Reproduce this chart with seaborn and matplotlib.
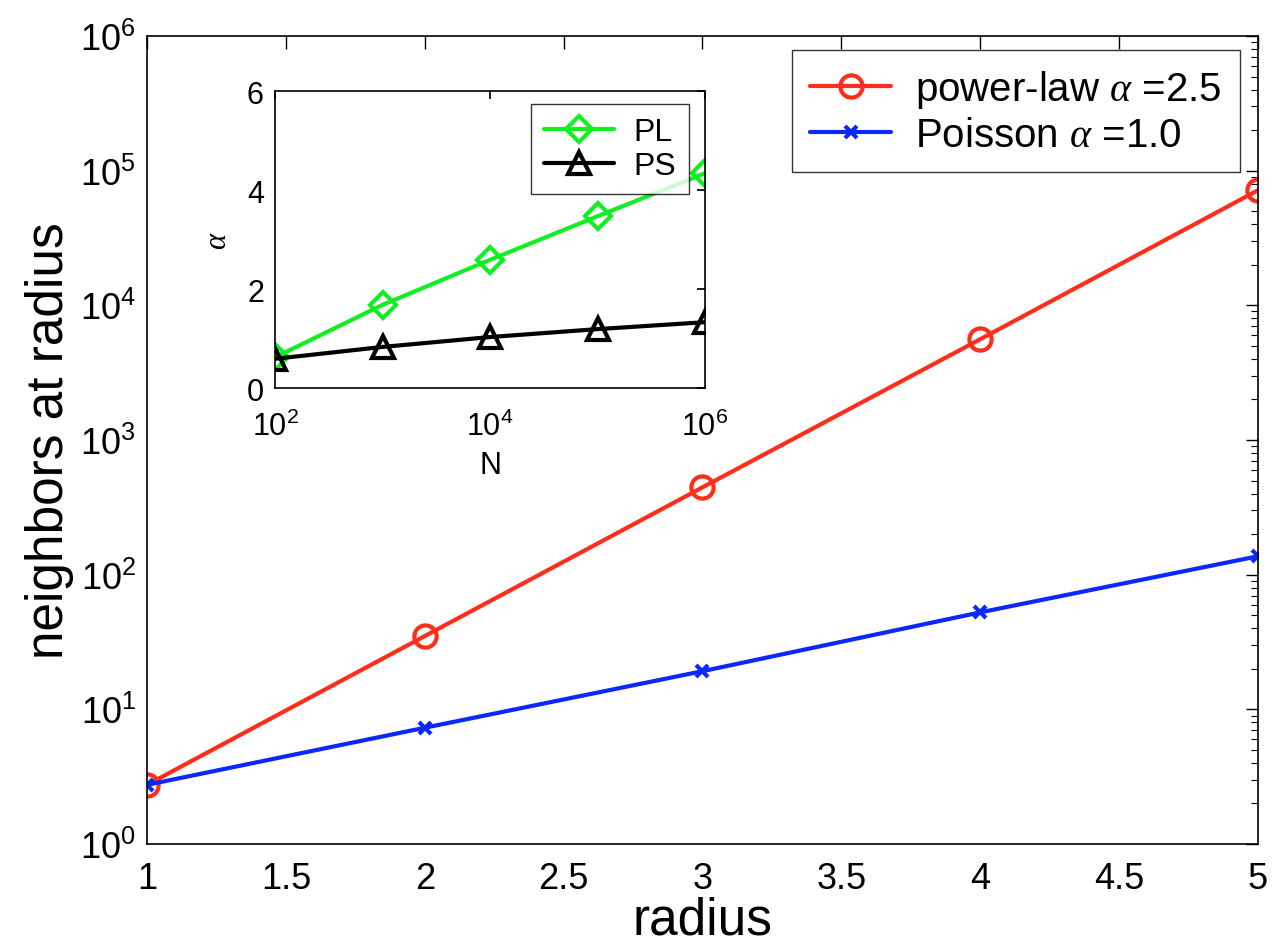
import matplotlib
matplotlib.use("Agg")
import matplotlib.pyplot as plt
import seaborn as sns
import numpy as np
from matplotlib.ticker import LogLocator, FixedLocator

# ---- data ----
radius = [1, 2, 3, 4, 5]
powerlaw_vals = [2.75, 35, 445, 5600, 71500]
poisson_vals = [2.75, 7.3, 19.2, 52.5, 137]

inset_N = [1e2, 1e3, 1e4, 1e5, 1e6]
inset_PL = [0.62, 1.68, 2.59, 3.47, 4.34]
inset_PS = [0.59, 0.83, 1.03, 1.19, 1.33]

sns.set_theme(style="white")
plt.rcParams['font.family'] = ['Liberation Sans', 'DejaVu Sans']
plt.rcParams['mathtext.fontset'] = 'custom'
plt.rcParams['mathtext.rm'] = 'Liberation Sans'
plt.rcParams['mathtext.it'] = 'Liberation Serif:italic'
plt.rcParams['mathtext.bf'] = 'Liberation Sans:bold'
plt.rcParams['xtick.direction'] = 'in'
plt.rcParams['ytick.direction'] = 'in'
for k in ['text.color', 'axes.labelcolor', 'xtick.color', 'ytick.color']:
    plt.rcParams[k] = 'black'

RED = '#ff2d1a'
BLUE = '#0a28ff'
GREEN = '#11ee22'

fig = plt.figure(figsize=(12.74, 9.53), dpi=100)
ax = fig.add_axes([0.1154, 0.1133, 0.872, 0.8479])

sns.lineplot(x=radius, y=powerlaw_vals, ax=ax, color=RED, lw=3.0, marker='o', ms=16,
             mfc='none', mec=RED, mew=3.0, label=r'power-law $\alpha$ =2.5')
sns.lineplot(x=radius, y=poisson_vals, ax=ax, color=BLUE, lw=3.0, marker='x', ms=8,
             mec=BLUE, mew=3.0, label=r'Poisson $\alpha$ =1.0')
ax.set_yscale('log')
ax.set_xlim(1, 5)
ax.set_ylim(1, 1e6)
ax.set_xticks([1, 1.5, 2, 2.5, 3, 3.5, 4, 4.5, 5])
ax.set_xticklabels(['1', '1.5', '2', '2.5', '3', '3.5', '4', '4.5', '5'])
ax.yaxis.set_major_locator(LogLocator(base=10, numticks=10))
ax.yaxis.set_minor_locator(LogLocator(base=10, subs=np.arange(2, 10), numticks=20))
ax.tick_params(which='both', top=True, right=True, labelsize=26)
ax.tick_params(axis='x', pad=12)
ax.tick_params(axis='y', pad=8)
ax.tick_params(which='major', length=9, width=1, color='black')
ax.tick_params(which='minor', length=5, width=0.8, color='black')
for s in ax.spines.values():
    s.set_color('black')
    s.set_linewidth(1.2)
ax.set_xlabel('radius', fontsize=37, labelpad=0)
ax.set_ylabel('neighbors at radius', fontsize=37, labelpad=4)
leg = ax.legend(loc='upper right', fontsize=29, handlelength=2.0, handletextpad=0.6,
                frameon=True, fancybox=False, edgecolor='black', borderpad=0.45,
                borderaxespad=0, bbox_to_anchor=(0.9838, 0.9827), labelspacing=0.15)
leg.get_frame().set_linewidth(1.0)

# ---- inset ----
ins = fig.add_axes([0.2159, 0.5918, 0.3375, 0.3116])
sns.lineplot(x=inset_N, y=inset_PL, ax=ins, color=GREEN, lw=3.0, marker='D', ms=13,
             mfc='none', mec=GREEN, mew=3.0, label='PL')
sns.lineplot(x=inset_N, y=inset_PS, ax=ins, color='black', lw=3.0, marker='^', ms=16,
             mfc='none', mec='black', mew=3.0, label='PS')
ins.set_xscale('log')
ins.set_xlim(1e2, 1e6)
ins.set_ylim(0, 6)
ins.xaxis.set_major_locator(FixedLocator([1e2, 1e4, 1e6]))
ins.xaxis.set_minor_locator(FixedLocator([]))
ins.set_yticks([0, 2, 4, 6])
ins.tick_params(which='both', top=True, right=True, labelsize=22, length=6, color='black')
ins.tick_params(axis='x', pad=16)
ins.tick_params(axis='y', pad=8)
for s in ins.spines.values():
    s.set_color('black')
    s.set_linewidth(1.2)
ins.set_xlabel('N', fontsize=22, labelpad=6)
ins.set_ylabel(r'$\alpha$', fontsize=22, labelpad=10)
leg2 = ins.legend(loc='upper right', fontsize=23, handlelength=2.2, handletextpad=0.6,
                  frameon=True, fancybox=False, edgecolor='black', borderpad=0.4,
                  borderaxespad=0, bbox_to_anchor=(0.963, 0.956), labelspacing=0.12)
leg2.get_frame().set_linewidth(1.0)

fig.savefig('out.png', dpi=100)
